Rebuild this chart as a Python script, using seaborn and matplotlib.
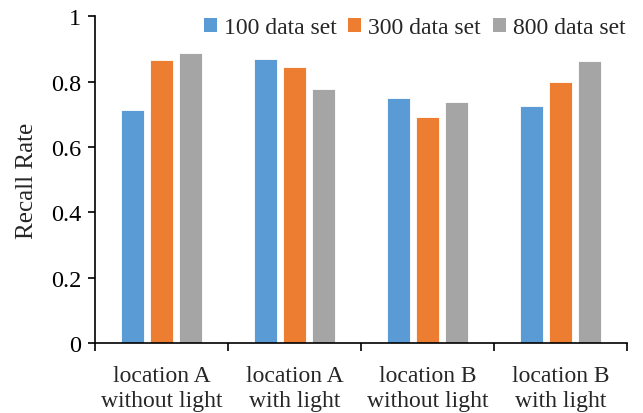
import matplotlib
matplotlib.use("Agg")
import matplotlib.pyplot as plt
import seaborn as sns
import pandas as pd
from matplotlib.ticker import FuncFormatter, FixedLocator

categories = ["location A\nwithout light", "location A\nwith light",
              "location B\nwithout light", "location B\nwith light"]
series_names = ["100 data set", "300 data set", "800 data set"]
vals_100 = [0.713, 0.871, 0.750, 0.726]
vals_300 = [0.865, 0.844, 0.691, 0.799]
vals_800 = [0.887, 0.777, 0.738, 0.863]
colors = ["#5B9BD5", "#ED7D31", "#A5A5A5"]
yticks = [0, 0.2, 0.4, 0.6, 0.8, 1.0]

rows = []
for name, vals in zip(series_names, [vals_100, vals_300, vals_800]):
    for c, v in zip(categories, vals):
        rows.append({"category": c, "series": name, "value": v})
df = pd.DataFrame(rows)

sns.set_style("white")
plt.rcParams["font.family"] = ["Liberation Serif", "DejaVu Serif"]
plt.rcParams["font.serif"] = ["Liberation Serif", "DejaVu Serif"]

fig = plt.figure(figsize=(6.43, 4.14), dpi=100)
ax = fig.add_axes([0.148, 0.169, 0.827, 0.789])

sns.barplot(data=df, x="category", y="value", hue="series", order=categories,
            hue_order=series_names, palette=colors, width=0.66, gap=0.21,
            edgecolor="white", linewidth=0.6, saturation=1, ax=ax, legend=True)

ax.set_xlim(-0.5, 3.5)
ax.set_ylim(0, 1.0)
ax.set_yticks(yticks)
ax.yaxis.set_major_formatter(FuncFormatter(lambda v, p: f"{v:g}"))
ax.set_xlabel("")
ax.set_ylabel("Recall Rate", fontsize=18, labelpad=9)

for s in ["top", "right"]:
    ax.spines[s].set_visible(False)
for s in ["left", "bottom"]:
    ax.spines[s].set_color("black")
    ax.spines[s].set_linewidth(1.2)

ax.tick_params(axis="y", which="major", direction="out", length=5, width=1.2,
               labelsize=17.5, left=True, pad=5, colors="black")
ax.tick_params(axis="x", which="major", length=0, labelsize=17, pad=16)
ax.xaxis.set_minor_locator(FixedLocator([-0.5, 0.5, 1.5, 2.5, 3.5]))
ax.tick_params(axis="x", which="minor", direction="out", length=6, width=1.2,
               bottom=True, colors="black")
for lab in ax.get_xticklabels():
    lab.set_linespacing(1.25)

leg = ax.legend(loc="upper right", bbox_to_anchor=(1.015, 1.026), ncol=3,
                frameon=False, fontsize=17, handlelength=0.55, handleheight=0.55,
                handletextpad=0.3, columnspacing=0.5, borderaxespad=0)
for h in leg.legend_handles:
    h.set_edgecolor("none")

fig.savefig("out.png", dpi=100)
